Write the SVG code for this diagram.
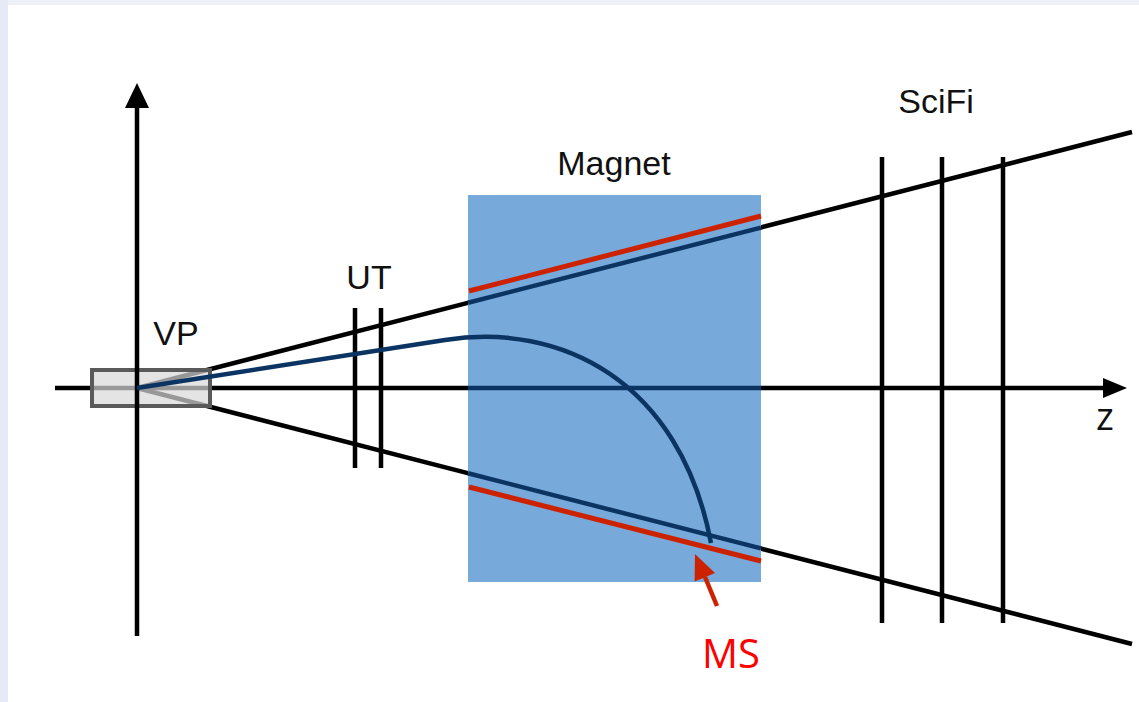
<svg xmlns="http://www.w3.org/2000/svg" width="1139" height="702" viewBox="0 0 1139 702">
  <defs>
    <style>
      .blk { stroke: #000; stroke-width: 4.5; fill: none; }
      .navy { stroke: #0b3463; stroke-width: 4.5; fill: none; }
      .red { stroke: #cc2200; stroke-width: 5; fill: none; }
      .lbl { font-family: "Liberation Sans", Arial, sans-serif; font-size: 34px; fill: #111; }
    </style>
  </defs>
  <rect x="0" y="0" width="1139" height="702" fill="#ffffff"/>
  <rect x="0" y="0" width="1139" height="5" fill="#eff1f8"/>
  <rect x="0" y="0" width="8" height="702" fill="#e6e9f6"/>

  <g id="connectors">
    <line id="z-axis" class="blk" x1="55" y1="388" x2="1106" y2="388"/>
    <polygon points="1103,378 1127,388 1103,398" fill="#000"/>
    <line id="cone-upper" class="blk" x1="137" y1="388" x2="1132" y2="132"/>
    <line id="cone-lower" class="blk" x1="137" y1="388" x2="1132" y2="644"/>
  </g>

  <g id="UT">
    <line class="blk" x1="355" y1="308" x2="355" y2="468"/>
    <line class="blk" x1="381" y1="308" x2="381" y2="468"/>
    <text class="lbl" x="369" y="289" text-anchor="middle">UT</text>
  </g>

  <g id="SciFi">
    <line class="blk" x1="882" y1="157" x2="882" y2="623"/>
    <line class="blk" x1="942" y1="157" x2="942" y2="623"/>
    <line class="blk" x1="1003" y1="157" x2="1003" y2="623"/>
    <text class="lbl" x="936" y="113" text-anchor="middle">SciFi</text>
  </g>

  <g id="VP">
    <rect x="92" y="370" width="118" height="36" fill="#d9d9d9" fill-opacity="0.7" stroke="#5a5a5a" stroke-width="4"/>
    <text class="lbl" x="176" y="345" text-anchor="middle">VP</text>
  </g>

  <g id="y-axis">
    <line class="blk" x1="137" y1="104" x2="137" y2="636"/>
    <polygon points="125,108 137,83 149,108" fill="#000"/>
  </g>

  <g id="Magnet">
    <rect x="468" y="195" width="293" height="387" fill="#77aadb"/>
    <line class="navy" x1="468" y1="388" x2="761" y2="388"/>
    <line class="navy" x1="468" y1="302.8" x2="761" y2="227.6"/>
    <line class="navy" x1="468" y1="473.2" x2="761" y2="548.4"/>
    <line class="red" x1="469" y1="291" x2="761" y2="216"/>
    <line class="red" x1="469" y1="487" x2="761" y2="561"/>
    <text class="lbl" x="614" y="175" text-anchor="middle">Magnet</text>
  </g>

  <g id="track">
    <path class="navy" d="M137,388 L445,340 C560,322 680,380 711,543"/>
  </g>

  <g id="MS">
    <line stroke="#cc2200" stroke-width="4.5" x1="717" y1="606" x2="705" y2="577"/>
    <polygon points="695,554 715,573 694.6,581.5" fill="#cc2200"/>
    <text x="731" y="668" text-anchor="middle" font-family="'Open Sans', 'Liberation Sans', sans-serif" font-size="40" fill="#ff0000">MS</text>
  </g>

  <g id="z-label">
    <text x="1105" y="430" text-anchor="middle" font-family="'Open Sans', 'Liberation Sans', sans-serif" font-size="38" fill="#111">z</text>
  </g>
</svg>
